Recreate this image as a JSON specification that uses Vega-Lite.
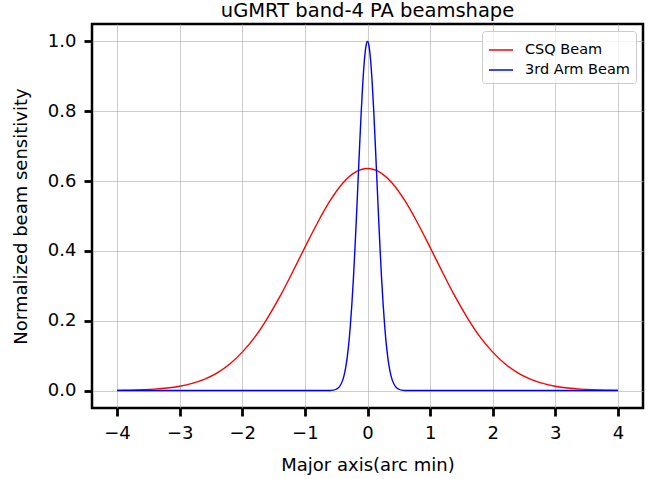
{
  "$schema": "https://vega.github.io/schema/vega-lite/v6.json",
  "autosize": {"type": "none"},
  "padding": {"left": 92, "top": 24, "right": 14, "bottom": 71},
  "width": 551,
  "height": 384,
  "background": "white",
  "config": {
    "font": "DejaVu Sans",
    "view": {"stroke": "black", "strokeWidth": 2.5},
    "axis": {
      "domain": false,
      "grid": true,
      "gridColor": "#b0b0b0",
      "gridWidth": 0.8,
      "gridOpacity": 0.8,
      "tickColor": "black",
      "tickWidth": 2.8,
      "tickSize": 8,
      "labelFont": "DejaVu Sans",
      "labelFontSize": 18,
      "labelColor": "black",
      "labelPadding": 8,
      "titleFont": "DejaVu Sans",
      "titleFontSize": 18,
      "titleFontWeight": "normal",
      "titleColor": "black"
    }
  },
  "title": {"text": "uGMRT band-4 PA beamshape", "font": "DejaVu Sans", "fontSize": 19.5, "fontWeight": "normal", "color": "black", "offset": 3, "anchor": "middle"},
  "data": {"values": [
    {"x": -4.0, "y": 0.0006, "beam": "CSQ Beam"},
    {"x": -3.8, "y": 0.0011, "beam": "CSQ Beam"},
    {"x": -3.6, "y": 0.0022, "beam": "CSQ Beam"},
    {"x": -3.4, "y": 0.0040, "beam": "CSQ Beam"},
    {"x": -3.2, "y": 0.0071, "beam": "CSQ Beam"},
    {"x": -3.0, "y": 0.0122, "beam": "CSQ Beam"},
    {"x": -2.8, "y": 0.0204, "beam": "CSQ Beam"},
    {"x": -2.6, "y": 0.0327, "beam": "CSQ Beam"},
    {"x": -2.4, "y": 0.0507, "beam": "CSQ Beam"},
    {"x": -2.2, "y": 0.0760, "beam": "CSQ Beam"},
    {"x": -2.0, "y": 0.110, "beam": "CSQ Beam"},
    {"x": -1.8, "y": 0.153, "beam": "CSQ Beam"},
    {"x": -1.6, "y": 0.207, "beam": "CSQ Beam"},
    {"x": -1.4, "y": 0.269, "beam": "CSQ Beam"},
    {"x": -1.2, "y": 0.338, "beam": "CSQ Beam"},
    {"x": -1.0, "y": 0.410, "beam": "CSQ Beam"},
    {"x": -0.8, "y": 0.480, "beam": "CSQ Beam"},
    {"x": -0.6, "y": 0.543, "beam": "CSQ Beam"},
    {"x": -0.4, "y": 0.593, "beam": "CSQ Beam"},
    {"x": -0.2, "y": 0.625, "beam": "CSQ Beam"},
    {"x": 0.0, "y": 0.636, "beam": "CSQ Beam"},
    {"x": 0.2, "y": 0.625, "beam": "CSQ Beam"},
    {"x": 0.4, "y": 0.593, "beam": "CSQ Beam"},
    {"x": 0.6, "y": 0.543, "beam": "CSQ Beam"},
    {"x": 0.8, "y": 0.480, "beam": "CSQ Beam"},
    {"x": 1.0, "y": 0.410, "beam": "CSQ Beam"},
    {"x": 1.2, "y": 0.338, "beam": "CSQ Beam"},
    {"x": 1.4, "y": 0.269, "beam": "CSQ Beam"},
    {"x": 1.6, "y": 0.207, "beam": "CSQ Beam"},
    {"x": 1.8, "y": 0.153, "beam": "CSQ Beam"},
    {"x": 2.0, "y": 0.110, "beam": "CSQ Beam"},
    {"x": 2.2, "y": 0.0760, "beam": "CSQ Beam"},
    {"x": 2.4, "y": 0.0507, "beam": "CSQ Beam"},
    {"x": 2.6, "y": 0.0327, "beam": "CSQ Beam"},
    {"x": 2.8, "y": 0.0204, "beam": "CSQ Beam"},
    {"x": 3.0, "y": 0.0122, "beam": "CSQ Beam"},
    {"x": 3.2, "y": 0.0071, "beam": "CSQ Beam"},
    {"x": 3.4, "y": 0.0040, "beam": "CSQ Beam"},
    {"x": 3.6, "y": 0.0022, "beam": "CSQ Beam"},
    {"x": 3.8, "y": 0.0011, "beam": "CSQ Beam"},
    {"x": 4.0, "y": 0.0006, "beam": "CSQ Beam"},
    {"x": -4.0, "y": 0.0, "beam": "3rd Arm Beam"},
    {"x": -0.7, "y": 0.0, "beam": "3rd Arm Beam"},
    {"x": -0.6, "y": 0.0003, "beam": "3rd Arm Beam"},
    {"x": -0.55, "y": 0.0011, "beam": "3rd Arm Beam"},
    {"x": -0.5, "y": 0.0037, "beam": "3rd Arm Beam"},
    {"x": -0.45, "y": 0.0107, "beam": "3rd Arm Beam"},
    {"x": -0.4, "y": 0.0277, "beam": "3rd Arm Beam"},
    {"x": -0.375, "y": 0.0427, "beam": "3rd Arm Beam"},
    {"x": -0.35, "y": 0.0642, "beam": "3rd Arm Beam"},
    {"x": -0.325, "y": 0.0937, "beam": "3rd Arm Beam"},
    {"x": -0.3, "y": 0.1329, "beam": "3rd Arm Beam"},
    {"x": -0.275, "y": 0.1835, "beam": "3rd Arm Beam"},
    {"x": -0.25, "y": 0.2463, "beam": "3rd Arm Beam"},
    {"x": -0.225, "y": 0.3214, "beam": "3rd Arm Beam"},
    {"x": -0.2, "y": 0.4079, "beam": "3rd Arm Beam"},
    {"x": -0.175, "y": 0.5033, "beam": "3rd Arm Beam"},
    {"x": -0.15, "y": 0.6038, "beam": "3rd Arm Beam"},
    {"x": -0.125, "y": 0.7045, "beam": "3rd Arm Beam"},
    {"x": -0.1, "y": 0.7991, "beam": "3rd Arm Beam"},
    {"x": -0.075, "y": 0.8815, "beam": "3rd Arm Beam"},
    {"x": -0.05, "y": 0.9455, "beam": "3rd Arm Beam"},
    {"x": -0.025, "y": 0.9861, "beam": "3rd Arm Beam"},
    {"x": 0.0, "y": 1.0, "beam": "3rd Arm Beam"},
    {"x": 0.025, "y": 0.9861, "beam": "3rd Arm Beam"},
    {"x": 0.05, "y": 0.9455, "beam": "3rd Arm Beam"},
    {"x": 0.075, "y": 0.8815, "beam": "3rd Arm Beam"},
    {"x": 0.1, "y": 0.7991, "beam": "3rd Arm Beam"},
    {"x": 0.125, "y": 0.7045, "beam": "3rd Arm Beam"},
    {"x": 0.15, "y": 0.6038, "beam": "3rd Arm Beam"},
    {"x": 0.175, "y": 0.5033, "beam": "3rd Arm Beam"},
    {"x": 0.2, "y": 0.4079, "beam": "3rd Arm Beam"},
    {"x": 0.225, "y": 0.3214, "beam": "3rd Arm Beam"},
    {"x": 0.25, "y": 0.2463, "beam": "3rd Arm Beam"},
    {"x": 0.275, "y": 0.1835, "beam": "3rd Arm Beam"},
    {"x": 0.3, "y": 0.1329, "beam": "3rd Arm Beam"},
    {"x": 0.325, "y": 0.0937, "beam": "3rd Arm Beam"},
    {"x": 0.35, "y": 0.0642, "beam": "3rd Arm Beam"},
    {"x": 0.375, "y": 0.0427, "beam": "3rd Arm Beam"},
    {"x": 0.4, "y": 0.0277, "beam": "3rd Arm Beam"},
    {"x": 0.45, "y": 0.0107, "beam": "3rd Arm Beam"},
    {"x": 0.5, "y": 0.0037, "beam": "3rd Arm Beam"},
    {"x": 0.55, "y": 0.0011, "beam": "3rd Arm Beam"},
    {"x": 0.6, "y": 0.0003, "beam": "3rd Arm Beam"},
    {"x": 0.7, "y": 0.0, "beam": "3rd Arm Beam"},
    {"x": 4.0, "y": 0.0, "beam": "3rd Arm Beam"}
  ]},
  "mark": {"type": "line", "interpolate": "monotone", "strokeWidth": 1.4, "clip": true},
  "encoding": {
    "x": {
      "field": "x", "type": "quantitative",
      "scale": {"domain": [-4.4, 4.4], "nice": false, "zero": false},
      "axis": {"values": [-4, -3, -2, -1, 0, 1, 2, 3, 4], "format": "d", "title": "Major axis(arc min)", "titlePadding": 14}
    },
    "y": {
      "field": "y", "type": "quantitative",
      "scale": {"domain": [-0.05, 1.05], "nice": false, "zero": false},
      "axis": {"values": [0, 0.2, 0.4, 0.6, 0.8, 1.0], "format": ".1f", "title": "Normalized beam sensitivity", "titlePadding": 17}
    },
    "color": {
      "field": "beam", "type": "nominal",
      "scale": {"domain": ["CSQ Beam", "3rd Arm Beam"], "range": ["#ff0000", "#0000ff"]},
      "legend": {
        "title": null,
        "orient": "top-right",
        "offset": 7,
        "symbolType": "stroke",
        "symbolSize": 576,
        "symbolStrokeWidth": 1.5,
        "labelFont": "DejaVu Sans",
        "labelFontSize": 14.5,
        "labelColor": "black",
        "labelOffset": 11,
        "rowPadding": 0,
        "padding": 6,
        "fillColor": "rgba(255,255,255,0.8)",
        "strokeColor": "#cccccc",
        "cornerRadius": 3
      }
    },
    "order": {"field": "beam", "sort": "descending"}
  }
}
